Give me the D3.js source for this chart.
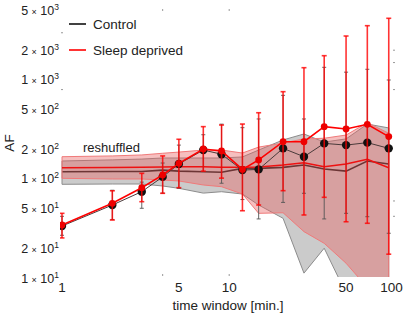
<!DOCTYPE html>
<html>
<head>
<meta charset="utf-8">
<script src="https://cdn.jsdelivr.net/npm/d3@7"></script>
<style>
  body { margin: 0; background: #fff; }
  text { font-family: "Liberation Sans", Arial, sans-serif; fill: #222; }
</style>
</head>
<body>
<div id="chart"></div>
<script>
// time windows [min.]
const times = [1, 2, 3, 4, 5, 7, 9, 12, 15, 21, 28, 37, 50, 67, 90];

// Control
const ctrlMean = [33.5, 54.6, 74.5, 105, 142, 196, 178, 123, 125, 204, 168, 229, 220, 233, 204];
const ctrlLo = [27, 39, 50.6, 72, 80.5, 119, 90.6, 62, 39.5, 58, 71.7, 39.5, 45, 41.6, 28.3];
const ctrlHi = [42, 77, 93, 145, 220, 280, 358, 330, 404, 700, 404, 1343, 1200, 1283, 1000];

// Sleep deprived
const sdMean = [34.3, 56.8, 81.7, 110, 144, 201, 192, 125, 156, 238, 238, 338, 320, 357, 268];
const sdLo = [25.4, 38.5, 59, 71.7, 81.7, 120, 102, 47.8, 54.6, 76.2, 43.3, 65.3, 37, 35.7, 17.4];
const sdHi = [45, 76, 114, 171, 252, 338, 351, 359, 467, 762, 1331, 1760, 2782, 3537, 4200];

// reshuffled bands
const ctrlShufMed = [118.5, 119, 119, 123, 120, 118.5, 117, 128, 128, 131, 138.5, 126, 120, 152, 142];
const ctrlShufLo = [88.4, 89, 89, 85, 80.5, 72, 74.4, 70.5, 54.6, 40.1, 11.2, 20, 7, 6, 6];
const ctrlShufHi = [152, 156, 159, 163, 163, 163, 163, 167, 196, 248, 285, 236, 254, 359, 328];
const sdShufMed = [130, 130.7, 131.3, 132, 133, 133, 131.3, 131.3, 132, 138.5, 146, 133, 141.7, 158, 130];
const sdShufLo = [101.6, 100, 100, 97.7, 95.5, 87, 83.6, 70.5, 45, 45.6, 29.4, 22.4, 14.1, 8, 8];
const sdShufHi = [168, 171, 175, 182, 187, 196, 196, 183, 210, 231, 254, 258, 278, 370, 290];

const xTicks = [1, 5, 10, 50, 100];
const yTicks = [[1, 1], [2, 1], [5, 1], [1, 2], [2, 2], [5, 2], [1, 3], [2, 3], [5, 3]];

const W = 407, H = 316;
const svg = d3.select("#chart").append("svg")
    .attr("width", W)
    .attr("height", H);

const x = d3.scaleLog().domain([1, 100]).range([62, 396.4]);
const y = d3.scaleLog().domain([10, 5000]).range([278, 10.8]);

svg.append("clipPath").attr("id", "clip")
  .append("rect")
    .attr("x", 60).attr("y", 0)
    .attr("width", 340).attr("height", y(10) - 1);

const plot = svg.append("g").attr("clip-path", "url(#clip)");

function rows(lo, hi, med) {
    return times.map((t, i) => ({ t: t, lo: lo[i], hi: hi[i], m: med[i] }));
}

const area = d3.area()
    .x(d => x(d.t))
    .y0(d => y(d.lo))
    .y1(d => y(d.hi));
const medLine = d3.line()
    .x(d => x(d.t))
    .y(d => y(d.m));

// control reshuffled band
const ctrlBand = rows(ctrlShufLo, ctrlShufHi, ctrlShufMed);
plot.append("path").datum(ctrlBand)
    .attr("d", area)
    .attr("fill", "#cbcbcb")
    .attr("stroke", "#8c8c8c")
    .attr("stroke-width", 1);
plot.append("path").datum(ctrlBand)
    .attr("d", medLine)
    .attr("fill", "none")
    .attr("stroke", "#1a1a1a")
    .attr("stroke-width", 1.6);

// sleep deprived reshuffled band
const sdBand = rows(sdShufLo, sdShufHi, sdShufMed);
plot.append("path").datum(sdBand)
    .attr("d", area)
    .attr("fill", "rgb(232,95,95)")
    .attr("fill-opacity", 0.4)
    .attr("stroke", "#f07a7a")
    .attr("stroke-width", 1);
plot.append("path").datum(sdBand)
    .attr("d", medLine)
    .attr("fill", "none")
    .attr("stroke", "#ee1111")
    .attr("stroke-width", 1.6);

function series(mean, lo, hi, opt) {
    const d = times.map((t, i) => ({ t: t, m: mean[i], lo: lo[i], hi: hi[i] }));
    const g = plot.append("g");
    const bars = g.selectAll("g.bar").data(d).enter().append("g")
        .attr("stroke", opt.bar)
        .attr("stroke-opacity", opt.barOpacity)
        .attr("stroke-width", opt.barWidth);
    bars.append("line")
        .attr("x1", p => x(p.t)).attr("x2", p => x(p.t))
        .attr("y1", p => y(p.lo)).attr("y2", p => y(p.hi));
    bars.append("line")
        .attr("x1", p => x(p.t) - opt.cap).attr("x2", p => x(p.t) + opt.cap)
        .attr("y1", p => y(p.lo)).attr("y2", p => y(p.lo));
    bars.append("line")
        .attr("x1", p => x(p.t) - opt.cap).attr("x2", p => x(p.t) + opt.cap)
        .attr("y1", p => y(p.hi)).attr("y2", p => y(p.hi));
    g.append("path").datum(d)
        .attr("d", medLine)
        .attr("fill", "none")
        .attr("stroke", opt.line)
        .attr("stroke-width", opt.lineWidth);
    g.selectAll("circle").data(d).enter().append("circle")
        .attr("cx", p => x(p.t))
        .attr("cy", p => y(p.m))
        .attr("r", opt.r)
        .attr("fill", opt.dot);
}

series(ctrlMean, ctrlLo, ctrlHi, {
    bar: "#555", barOpacity: 0.9, barWidth: 1, cap: 2,
    line: "#4a3a3a", lineWidth: 1, r: 4.2, dot: "#111"
});
series(sdMean, sdLo, sdHi, {
    bar: "#ff0000", barOpacity: 0.8, barWidth: 1.6, cap: 2.5,
    line: "#ff0000", lineWidth: 1.6, r: 3.4, dot: "#ee0000"
});

// axes (frame lines hidden, labels only)
svg.selectAll("text.xt").data(xTicks).enter().append("text")
    .attr("class", "xt")
    .attr("x", d => d === 100 ? x(d) - 5 : x(d))
    .attr("y", 292)
    .attr("text-anchor", "middle")
    .attr("font-size", 13.5)
    .text(d => d);

const yt = svg.selectAll("text.yt").data(yTicks).enter().append("text")
    .attr("class", "yt")
    .attr("x", 59)
    .attr("y", d => y(d[0] * Math.pow(10, d[1])) + 4.5)
    .attr("text-anchor", "end")
    .attr("font-size", 12.5);
yt.append("tspan").text(d => d[0] + " ");
yt.append("tspan").attr("font-size", 9).text("\u00d7");
yt.append("tspan").text(" 10");
yt.append("tspan").attr("font-size", 8.5).attr("dy", -5).text(d => d[1]);

// faint frame ticks
const tickMarks = svg.append("g").attr("stroke", "#999").attr("stroke-width", 1);
[4, 10].forEach(t => {
    tickMarks.append("line").attr("x1", x(t)).attr("x2", x(t)).attr("y1", 9).attr("y2", 11);
    tickMarks.append("line").attr("x1", x(t)).attr("x2", x(t)).attr("y1", 274).attr("y2", 276);
});
[3000, 800].forEach(v => {
    tickMarks.append("line").attr("x1", 61).attr("x2", 63).attr("y1", y(v)).attr("y2", y(v));
});
[2000, 1500, 800, 60, 42].forEach(v => {
    tickMarks.append("line").attr("x1", 393).attr("x2", 395).attr("y1", y(v)).attr("y2", y(v));
});

svg.append("text")
    .attr("x", 228).attr("y", 310)
    .attr("text-anchor", "middle")
    .attr("font-size", 13.5)
    .text("time window [min.]");

svg.append("text")
    .attr("transform", "translate(14,143) rotate(-90)")
    .attr("text-anchor", "middle")
    .attr("font-size", 13.5)
    .text("AF");

svg.append("text")
    .attr("x", 83).attr("y", 152)
    .attr("font-size", 13)
    .text("reshuffled");

// legend
const legend = [["Control", "#111"], ["Sleep deprived", "#ff0000"]];
const lg = svg.selectAll("g.leg").data(legend).enter().append("g")
    .attr("transform", (d, i) => `translate(0,${24 + i * 26})`);
lg.append("line")
    .attr("x1", 69).attr("x2", 86)
    .attr("stroke", d => d[1])
    .attr("stroke-width", 1.6);
lg.append("text")
    .attr("x", 93).attr("y", 5)
    .attr("font-size", 13.5)
    .text(d => d[0]);
</script>
</body>
</html>
